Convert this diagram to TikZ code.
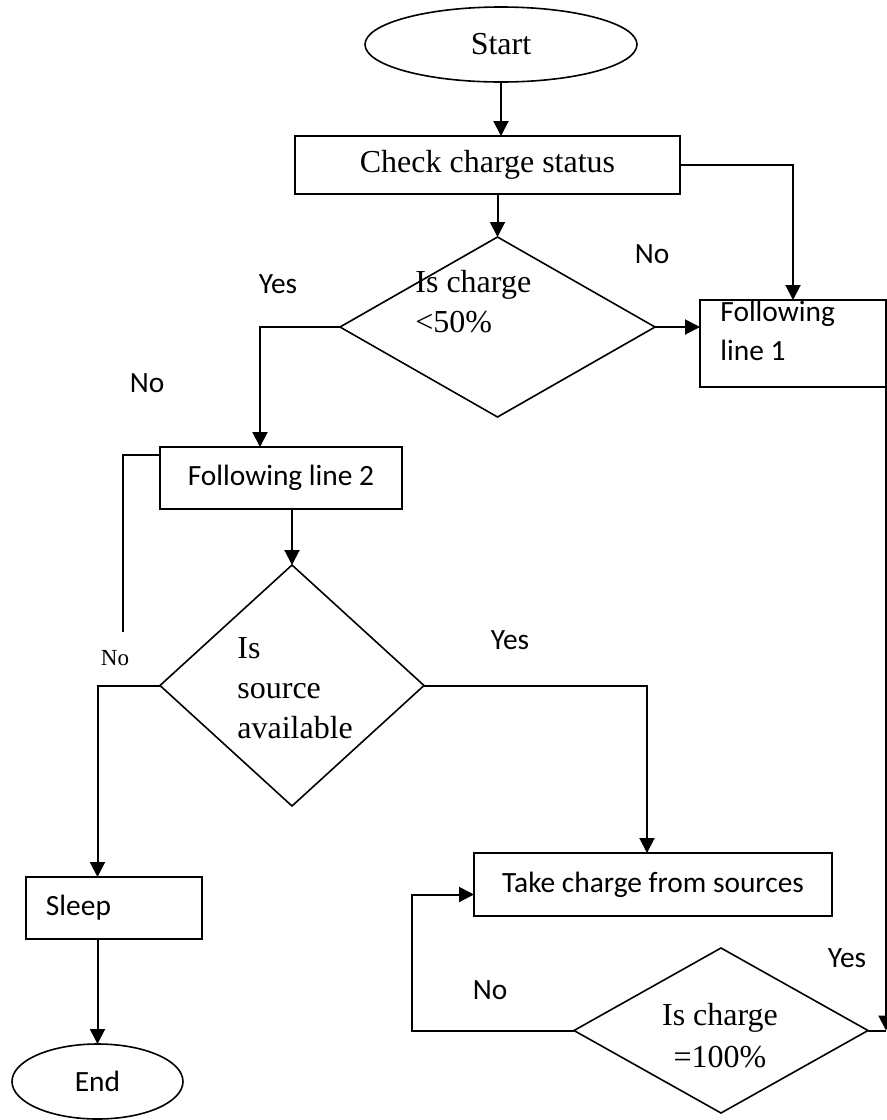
\documentclass[tikz,border=0pt]{standalone}
\usepackage{fontspec}
\setmainfont{Liberation Serif}
\newfontfamily\calfont{Carlito}
\usetikzlibrary{shapes.geometric,arrows.meta,calc}

\begin{document}
\begin{tikzpicture}[x=0.5pt, y=-0.5pt, font=\fontsize{16}{20}\selectfont,
    box/.style={draw, line width=0.8pt, rectangle, inner sep=0pt, outer sep=0pt},
    oval/.style={draw, line width=0.8pt, ellipse, inner sep=0pt, outer sep=0pt},
    decision/.style={draw, line width=0.8pt, diamond, inner sep=0pt, outer sep=0pt},
    arr/.style={line width=1pt, -{Triangle[length=7.5pt, width=7.5pt]}},
    link/.style={line width=1pt},
    serif/.style={inner sep=0pt, align=left},
    sans/.style={inner sep=0pt, align=left, font=\calfont\fontsize{14.7}{19.5}\selectfont}]
    \useasboundingbox (0,0) rectangle (887,1120);

    \node[oval, minimum width=136pt, minimum height=37.5pt] (start) at (501,44.5) {Start};
    \node[box, minimum width=192.5pt, minimum height=29pt] (check) at (487.5,165) {Check charge status};
    \node[decision, minimum width=157.5pt, minimum height=90pt] (isless) at (497.5,327) {};
    \node[box, minimum width=93pt, minimum height=43.5pt] (lineone) at (793,343.5) {};
    \node[box, sans, minimum width=121pt, minimum height=31pt] (linetwo) at (281,478) {Following line 2};
    \node[decision, minimum width=132pt, minimum height=120.5pt] (source) at (292,685.5) {};
    \node[box, sans, minimum width=88pt, minimum height=31pt, text width=68pt] (sleep) at (114,908) {Sleep};
    \node[oval, sans, minimum width=85.5pt, minimum height=37.5pt] (end) at (97.5,1081.5) {End};
    \node[box, sans, minimum width=179pt, minimum height=31.5pt] (take) at (653,884.5) {Take charge from sources};
    \node[decision, minimum width=147pt, minimum height=82.5pt] (isfull) at (721,1030.5) {};

    \node[serif, anchor=west] (islesstxt) at (415,302) {Is charge\\<50\%};
    \node[sans, anchor=west] (lineonetxt) at (720,330.5) {Following\\line 1};
    \node[serif, anchor=west] (sourcetxt) at (237,688) {Is\\source\\available};
    \node[serif, align=center, font=\fontsize{16}{21}\selectfont] (isfulltxt) at (720,1036) {Is charge\\=100\%};

    \node[sans] (noa) at (652,254) {No};
    \node[sans] (yesa) at (278,284) {Yes};
    \node[sans] (nob) at (147,383) {No};
    \node[serif, font=\fontsize{11.5}{14}\selectfont] (noc) at (115,658) {No};
    \node[sans] (yesb) at (510,640) {Yes};
    \node[sans] (nod) at (490,990) {No};
    \node[sans] (yesc) at (847,958) {Yes};

    \coordinate (nofree) at (123,632);

    \draw[arr] (start.south) -- (start.south |- check.north);
    \draw[arr] (check.south -| isless.north) -- (isless.north);
    \draw[arr] (check.east) -| (lineone.north);
    \draw[arr] (isless.east) -- (isless.east -| lineone.west);
    \draw[arr] (isless.west) -| ($(linetwo.north)+(-21,0)$);
    \draw[link] ($(linetwo.north west)+(0,8)$) -| (nofree);
    \draw[arr] (linetwo.south -| source.north) -- (source.north);
    \draw[arr] (source.west) -| (end.north |- sleep.north);
    \draw[arr] (end.north |- sleep.south) -- (end.north);
    \draw[arr] (source.east) -| ($(take.north)+(-6,0)$);
    \draw[arr] (isfull.west) -| ($(take.west)+(-62,10)$) -- ($(take.west)+(0,10)$);
    \draw[arr] (lineone.south east) -- (lineone.south east |- isfull.east);
    \draw[link] (isfull.east) -- (lineone.south east |- isfull.east);
\end{tikzpicture}
\end{document}
